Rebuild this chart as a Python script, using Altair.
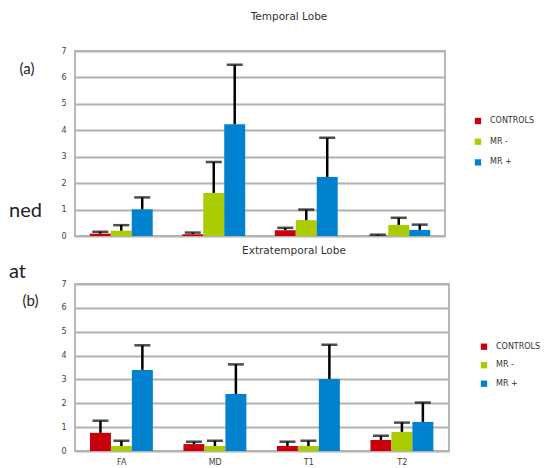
import altair as alt
import pandas as pd

categories = ["FA", "MD", "T1", "T2"]
series = ["CONTROLS", "MR -", "MR +"]
colors = ["#C8000A", "#AACC00", "#0082CE"]

# Temporal lobe (a): means and upper error magnitudes
temp_controls = [0.09, 0.07, 0.22, 0.01]
temp_controls_err = [0.07, 0.06, 0.09, 0.04]
temp_mrneg = [0.20, 1.63, 0.60, 0.42]
temp_mrneg_err = [0.21, 1.17, 0.40, 0.27]
temp_mrpos = [1.01, 4.23, 2.23, 0.23]
temp_mrpos_err = [0.45, 2.25, 1.49, 0.20]

# Extratemporal lobe (b)
ext_controls = [0.76, 0.29, 0.21, 0.46]
ext_controls_err = [0.51, 0.10, 0.18, 0.18]
ext_mrneg = [0.21, 0.21, 0.21, 0.80]
ext_mrneg_err = [0.22, 0.22, 0.22, 0.39]
ext_mrpos = [3.40, 2.39, 3.02, 1.22]
ext_mrpos_err = [1.03, 1.24, 1.43, 0.81]

y_ticks = [0, 1, 2, 3, 4, 5, 6, 7]


def build_df(means, errs):
    rows = []
    for s, ms, es in zip(series, means, errs):
        for c, m, e in zip(categories, ms, es):
            rows.append({"cat": c, "series": s, "mean": m, "upper": round(m + e, 3)})
    return pd.DataFrame(rows)


temporal = build_df([temp_controls, temp_mrneg, temp_mrpos],
                    [temp_controls_err, temp_mrneg_err, temp_mrpos_err])
extratemporal = build_df([ext_controls, ext_mrneg, ext_mrpos],
                         [ext_controls_err, ext_mrneg_err, ext_mrpos_err])

TXT = "#333333"


def text_layer(label, x, y, size, font, align="center", baseline="middle", color=TXT):
    return alt.Chart(pd.DataFrame({"t": [label]})).mark_text(
        fontSize=size, font=font, align=align, baseline=baseline, color=color
    ).encode(text="t:N", x=alt.value(x), y=alt.value(y))


def y_axis():
    return alt.Axis(values=y_ticks, grid=True, gridColor="#B2B2B2", gridWidth=2,
                    ticks=False, domain=False, labelFontSize=8, labelOverlap=False,
                    labelColor="#404040", labelPadding=9, labelFont="DejaVu Sans",
                    tickCount=8)


def panel(df, width, height, show_x, title, title_xy, letter, letter_xy, stray, stray_xy,
          legend_x, legend_y, legend_rowpad):
    xscale = alt.Scale(domain=categories, paddingInner=0.32, paddingOuter=0.16)
    xoff = alt.Scale(domain=series, paddingInner=0, paddingOuter=0)
    yscale = alt.Scale(domain=[0, 7], nice=False, zero=True)
    if show_x:
        xaxis = alt.Axis(title=None, labelAngle=0, ticks=False, domain=False, grid=False,
                         labelFontSize=8, labelPadding=7, labelColor="#404040",
                         labelFont="DejaVu Sans")
    else:
        xaxis = None
    base = alt.Chart(df).encode(
        x=alt.X("cat:N", scale=xscale, axis=xaxis, sort=categories),
        xOffset=alt.XOffset("series:N", scale=xoff, sort=series),
    )
    bars = base.mark_bar().encode(
        y=alt.Y("mean:Q", scale=yscale, title=None, axis=y_axis()),
        color=alt.Color("series:N", sort=series,
                        scale=alt.Scale(domain=series, range=colors),
                        legend=alt.Legend(title=None, orient="none", legendX=legend_x,
                                          legendY=legend_y, symbolType="square",
                                          symbolSize=40, symbolStrokeWidth=0,
                                          labelFontSize=8, labelFont="DejaVu Sans",
                                          labelColor=TXT, rowPadding=legend_rowpad,
                                          padding=0, labelOffset=8)),
    )
    rules = base.mark_rule(color="black", strokeWidth=2.5).encode(
        y=alt.Y("mean:Q", scale=yscale, title=None, axis=y_axis()), y2="upper:Q"
    )
    caps = base.mark_tick(color="black", size=16, thickness=2.5).encode(
        y=alt.Y("upper:Q", scale=yscale, title=None, axis=y_axis())
    )
    t = text_layer(title, title_xy[0], title_xy[1], 10.5, "DejaVu Sans")
    l = text_layer(letter, letter_xy[0], letter_xy[1], 15, "Lato", color="#222222")
    s = text_layer(stray, stray_xy[0], stray_xy[1], 20, "Lato", align="left",
                   baseline="alphabetic", color="#222222")
    return alt.layer(bars, rules, caps, t, l, s).properties(width=width, height=height)


top = panel(temporal, 370, 185, False, "Temporal Lobe", (214, -34), "(a)", (-48, 18),
            "ned", (-66, 166), 399, 66, 12.7)
bottom = panel(extratemporal, 374, 167, True, "Extratemporal Lobe", (219, -33), "(b)",
               (-44.5, 17), "at", (-66, -6), 405, 58.7, 10.5)

chart = alt.vconcat(top, bottom, spacing=4).resolve_legend(
    color="independent"
).properties(
    padding={"left": 0, "top": 3, "right": 5, "bottom": 0}
).configure_view(
    stroke="#B8B8B8", strokeWidth=2
)

chart.save("out.html", embed_options={"renderer": "svg", "actions": False})
